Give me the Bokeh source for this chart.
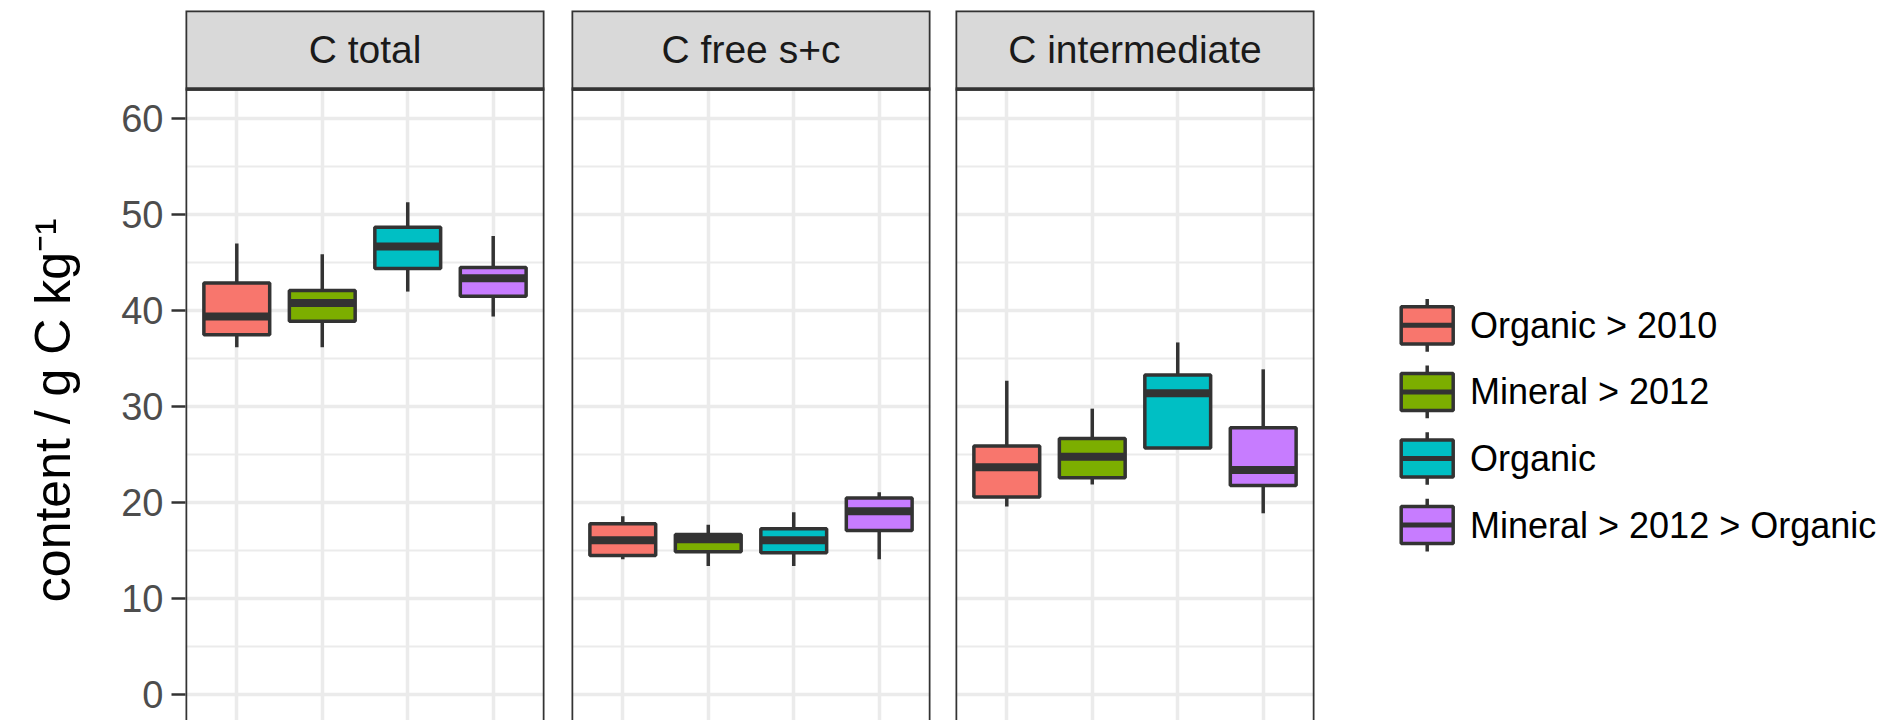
import math
from bokeh.plotting import figure
from bokeh.layouts import row
from bokeh.models import ColumnDataSource, FixedTicker, BoxAnnotation, Label, Range1d
from bokeh.embed import file_html
from bokeh.resources import INLINE
from bokeh.core.properties import value

# ---------------- data ----------------
groups = ["Organic > 2010", "Mineral > 2012", "Organic", "Mineral > 2012 > Organic"]
colors = ["#F8766D", "#7CAE00", "#00BFC4", "#C77CFF"]
facets = ["C total", "C free s+c", "C intermediate"]
y_ticks = [0, 10, 20, 30, 40, 50, 60]
y_minor = [5, 15, 25, 35, 45, 55]
y_title = "content / g C kg\u207b\u00b9"

# per facet: one value per group (boxplot statistics)
whisker_low = [[36.2, 36.2, 42.0, 39.4],
               [14.1, 13.4, 13.4, 14.1],
               [19.6, 21.9, 25.7, 18.9]]
q1 = [[37.5, 38.9, 44.4, 41.5],
      [14.5, 14.9, 14.8, 17.1],
      [20.6, 22.6, 25.7, 21.8]]
median = [[39.4, 40.8, 46.7, 43.4],
          [16.1, 16.2, 16.1, 19.1],
          [23.7, 24.8, 31.4, 23.4]]
q3 = [[42.9, 42.1, 48.7, 44.5],
      [17.8, 16.7, 17.3, 20.5],
      [25.9, 26.7, 33.3, 27.8]]
whisker_high = [[47.0, 45.9, 51.3, 47.8],
                [18.6, 17.7, 19.0, 21.1],
                [32.7, 29.8, 36.7, 33.9]]

# ---------------- style ----------------
FONT = "Liberation Sans"
DARK = "#333333"
GRID = "#EBEBEB"
Y_RANGE = (-2.69, 71.285)
PANEL_TOP = 63.1
FRAME_W, FRAME_H = 359, 710
TOP_BORDER = 10
BOX_HALF = 0.385
LINE_W = 3.5
borders = [(75, 13), (14, 12), (13, 10)]
TITLE_W = 110
H = TOP_BORDER + FRAME_H


def make_panel(i):
    left, right = borders[i]
    p = figure(frame_width=FRAME_W, frame_height=FRAME_H,
               x_range=Range1d(0.4, 4.6), y_range=Range1d(*Y_RANGE),
               output_backend="svg", toolbar_location=None,
               min_border_left=left, min_border_right=right,
               min_border_top=TOP_BORDER, min_border_bottom=0,
               outline_line_color=None,
               background_fill_color="white", border_fill_color="white")
    p.xaxis.visible = False
    if i == 0:
        ax = p.yaxis[0]
        ax.ticker = FixedTicker(ticks=y_ticks)
        ax.axis_line_color = None
        ax.major_tick_out = 14
        ax.major_tick_in = 0
        ax.major_tick_line_color = DARK
        ax.major_tick_line_width = 2.5
        ax.minor_tick_line_color = None
        ax.major_label_text_font = FONT
        ax.major_label_text_font_size = "38px"
        ax.major_label_text_color = "#4D4D4D"
        ax.major_label_standoff = 8
    else:
        p.yaxis.visible = False

    p.xgrid.ticker = FixedTicker(ticks=[1, 2, 3, 4])
    p.xgrid.grid_line_color = GRID
    p.xgrid.grid_line_width = 3.5
    p.ygrid.ticker = FixedTicker(ticks=y_ticks, minor_ticks=y_minor)
    p.ygrid.grid_line_color = GRID
    p.ygrid.grid_line_width = 3.5
    p.ygrid.minor_grid_line_color = GRID
    p.ygrid.minor_grid_line_width = 2

    xs = [k + 1 for k in range(len(groups))]
    src = ColumnDataSource(dict(
        x=xs,
        left=[x - BOX_HALF for x in xs],
        right=[x + BOX_HALF for x in xs],
        lo=whisker_low[i], q1=q1[i], med=median[i], q3=q3[i], hi=whisker_high[i],
        color=colors,
    ))
    p.segment(x0="x", y0="q3", x1="x", y1="hi", source=src, line_color=DARK, line_width=LINE_W)
    p.segment(x0="x", y0="lo", x1="x", y1="q1", source=src, line_color=DARK, line_width=LINE_W)
    p.quad(left="left", right="right", bottom="q1", top="q3", source=src,
           fill_color="color", line_color=DARK, line_width=LINE_W)
    p.segment(x0="left", y0="med", x1="right", y1="med", source=src,
              line_color=DARK, line_width=8, line_cap="butt")

    # panel border
    p.add_layout(BoxAnnotation(left=0.4, right=4.6, bottom=Y_RANGE[0] - 20, top=PANEL_TOP,
                               fill_alpha=0, line_color=DARK, line_alpha=1, line_width=LINE_W))
    # strip
    p.add_layout(BoxAnnotation(left=0.4, right=4.6, bottom=PANEL_TOP, top=Y_RANGE[1],
                               fill_color="#D9D9D9", fill_alpha=1,
                               line_color=DARK, line_alpha=1, line_width=LINE_W))
    p.add_layout(Label(x=2.5, y=(PANEL_TOP + Y_RANGE[1]) / 2, text=facets[i],
                       text_align="center", text_baseline="middle",
                       text_font=FONT, text_font_size="39px", text_color="#1A1A1A"))
    return p


# ---------------- y title (own strip of the page) ----------------
tf = figure(width=TITLE_W, height=H, x_range=Range1d(0, TITLE_W), y_range=Range1d(0, H),
            output_backend="svg", toolbar_location=None, min_border=0,
            outline_line_color=None, background_fill_color="white",
            border_fill_color="white")
tf.axis.visible = False
tf.grid.visible = False
tf.text(x=[52], y=[120], text=[y_title], angle=math.pi / 2,
        text_font=value(FONT), text_font_size="50px", text_align="left",
        text_baseline="alphabetic", text_color="black")

panels = [make_panel(i) for i in range(3)]

# ---------------- legend ----------------
LW = 566
leg = figure(width=LW, height=H, x_range=Range1d(0, LW), y_range=Range1d(0, H),
             output_backend="svg", toolbar_location=None, min_border=0,
             outline_line_color=None, background_fill_color="white",
             border_fill_color="white")
leg.axis.visible = False
leg.grid.visible = False

key_x = 102.7
key_y = [H - 319.3 - 67.5 * k for k in range(len(groups))]
lsrc = ColumnDataSource(dict(
    x=[key_x] * len(groups), y=key_y,
    l=[key_x - 26] * len(groups), r=[key_x + 26] * len(groups),
    b=[y - 18.8 for y in key_y], t=[y + 18.8 for y in key_y],
    wl=[y - 26.7 for y in key_y], wh=[y + 26.7 for y in key_y],
    color=colors, label=groups, tx=[145.5] * len(groups),
))
leg.segment(x0="x", y0="wl", x1="x", y1="wh", source=lsrc, line_color=DARK, line_width=LINE_W)
leg.quad(left="l", right="r", bottom="b", top="t", source=lsrc,
         fill_color="color", line_color=DARK, line_width=LINE_W)
leg.segment(x0="l", y0="y", x1="r", y1="y", source=lsrc, line_color=DARK,
            line_width=5, line_cap="butt")
leg.text(x="tx", y="y", text="label", source=lsrc, text_font=value(FONT),
         text_font_size="36px", text_baseline="middle", text_align="left",
         text_color="black")

layout = row(tf, *panels, leg)
open("out.html", "w").write(file_html(layout, INLINE))
